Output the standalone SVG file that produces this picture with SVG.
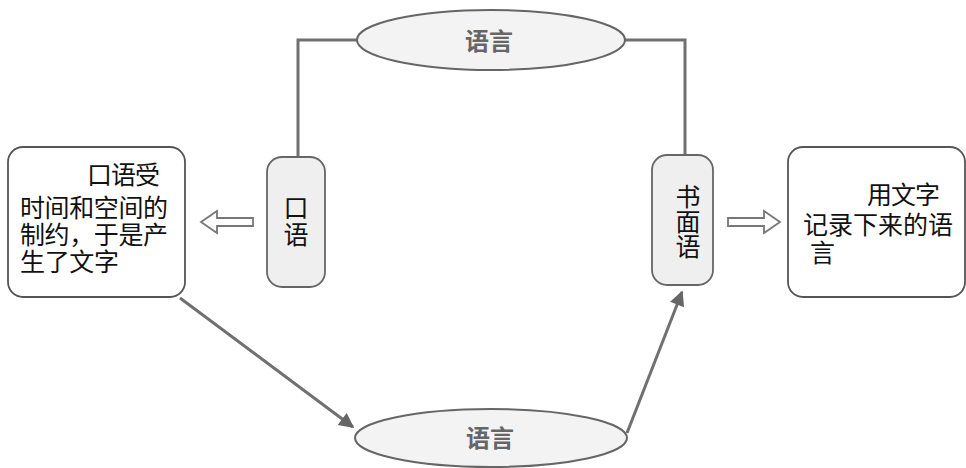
<svg xmlns="http://www.w3.org/2000/svg" width="966" height="468" viewBox="0 0 966 468">
<style>
.box{fill:#fff;stroke:#555;stroke-width:1.8}
.pill{fill:#efefef;stroke:#666;stroke-width:1.8}
.ell{fill:#f3f3f3;stroke:#666;stroke-width:2}
.t{font-family:"Noto Sans CJK SC","Noto Sans",sans-serif;font-size:25px;fill:#111}
.tg{font-family:"Noto Sans CJK SC","Noto Sans",sans-serif;font-size:24px;font-weight:bold;fill:#666;text-anchor:middle}
.ln{fill:none;stroke:#707070;stroke-width:3}
.hol{fill:#fff;stroke:#777;stroke-width:1.8}
</style>
<defs>
<marker id="ah" viewBox="0 0 10 10" refX="9" refY="5" markerWidth="6" markerHeight="5" orient="auto" markerUnits="strokeWidth">
<path d="M0,0 L10,5 L0,10 z" fill="#666"/>
</marker>
</defs>
<g id="connectors">
<polyline class="ln" points="298,157 298,40 357,40"/>
<polyline class="ln" points="625,40 685,40 685,155"/>
<line class="ln" x1="180" y1="298" x2="353" y2="427" marker-end="url(#ah)"/>
<line class="ln" x1="627" y1="433" x2="682" y2="292" marker-end="url(#ah)"/>
<path class="hol" d="M253,218 L217,218 L217,211 L201,222 L217,233 L217,226 L253,226 Z"/>
<path class="hol" d="M728,218 L764,218 L764,211 L780,222 L764,233 L764,226 L728,226 Z"/>
</g>
<g id="top-yuyan">
<ellipse class="ell" cx="491" cy="40" rx="134" ry="30"/>
<text class="tg" x="489" y="50">语言</text>
</g>
<g id="bottom-yuyan">
<ellipse class="ell" cx="491" cy="438" rx="136" ry="29"/>
<text class="tg" x="490" y="447">语言</text>
</g>
<g id="kouyu">
<rect class="pill" x="267" y="157" width="58" height="130" rx="15"/>
<text class="t" x="296" y="217" text-anchor="middle">口</text>
<text class="t" x="296" y="244" text-anchor="middle">语</text>
</g>
<g id="shumianyu">
<rect class="pill" x="652" y="155" width="61" height="130" rx="15"/>
<text class="t" x="688" y="206" text-anchor="middle">书</text>
<text class="t" x="688" y="231" text-anchor="middle">面</text>
<text class="t" x="688" y="256" text-anchor="middle">语</text>
</g>
<g id="left-box">
<rect class="box" x="8" y="147" width="177" height="150" rx="15"/>
<text class="t" x="87" y="184" textLength="73">口语受</text>
<text class="t" x="20" y="217" textLength="148">时间和空间的</text>
<text class="t" x="20" y="244" textLength="148">制约，于是产</text>
<text class="t" x="20" y="271" textLength="99">生了文字</text>
</g>
<g id="right-box">
<rect class="box" x="788" y="147" width="177" height="150" rx="15"/>
<text class="t" x="867" y="204" textLength="73">用文字</text>
<text class="t" x="803" y="234" textLength="150">记录下来的语</text>
<text class="t" x="810" y="262">言</text>
</g>
</svg>
